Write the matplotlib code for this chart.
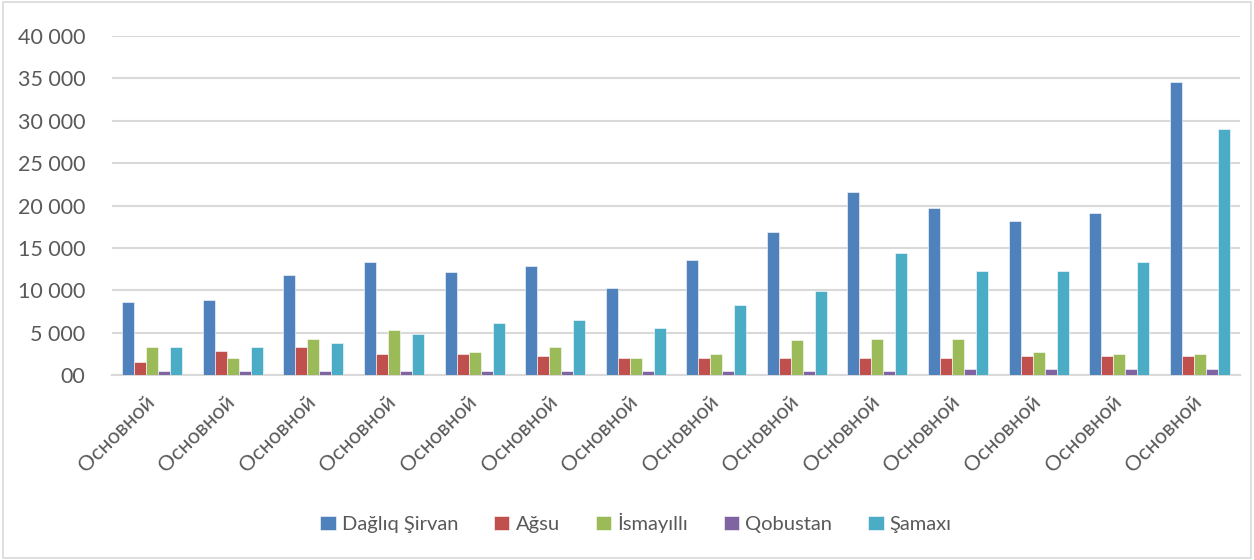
import matplotlib
matplotlib.use("Agg")
import matplotlib.pyplot as plt
import matplotlib.transforms as mtransforms
import numpy as np
from matplotlib.patches import Rectangle

plt.rcParams['font.family'] = ['Lato', 'DejaVu Sans']

categories = ["Основной"] * 14
series_names = ["Dağlıq Şirvan", "Ağsu", "İsmayıllı", "Qobustan", "Şamaxı"]
daglig_sirvan = [8600, 8800, 11850, 13350, 12100, 12900, 10300, 13600, 16900, 21650, 19650, 18150, 19150, 34550]
agsu = [1500, 2800, 3300, 2500, 2500, 2250, 2000, 2000, 2000, 2000, 2000, 2250, 2250, 2250]
ismayilli = [3300, 2000, 4300, 5300, 2750, 3300, 2000, 2500, 4100, 4250, 4250, 2700, 2500, 2500]
qobustan = [500, 500, 500, 500, 500, 500, 500, 500, 500, 500, 700, 700, 700, 700]
samaxi = [3300, 3300, 3800, 4800, 6100, 6500, 5550, 8300, 9900, 14350, 12300, 12300, 13300, 29000]
y_ticks = [0, 5000, 10000, 15000, 20000, 25000, 30000, 35000, 40000]
y_tick_labels = ["00", "5 000", "10 000", "15 000", "20 000", "25 000", "30 000", "35 000", "40 000"]

colors = ["#4F81BD", "#C0504D", "#9BBB59", "#8064A2", "#4BACC6"]
data = [daglig_sirvan, agsu, ismayilli, qobustan, samaxi]

fig = plt.figure(figsize=(12.54, 5.6), dpi=100)
ax = fig.add_axes([112/1254, 1-375/560, (1240-112)/1254, (375-36)/560])

x = np.arange(len(categories))
w = 0.149
for i, (vals, name, c) in enumerate(zip(data, series_names, colors)):
    ax.bar(x + (i-2)*w, vals, width=w, color=c, label=name, edgecolor="white", linewidth=0.4, zorder=3)

ax.set_xlim(-0.5, len(categories)-0.5)
ax.set_ylim(0, 40000)
ax.set_yticks(y_ticks)
ax.set_yticklabels(y_tick_labels, fontsize=15.5, color="#595959")
ax.set_xticks(x)
ax.set_xticklabels(categories, rotation=45, ha="right", rotation_mode="anchor", fontsize=15.5, color="#595959")
ax.tick_params(axis="both", length=0)
ax.tick_params(axis="y", pad=19)
ax.tick_params(axis="x", pad=12)
offset = mtransforms.ScaledTranslation(-8/100, 0, fig.dpi_scale_trans)
for lbl in ax.get_xticklabels():
    lbl.set_transform(lbl.get_transform() + offset)
ax.grid(axis="y", color="#D9D9D9", linewidth=1.5, zorder=0)
for s in ["top", "right", "left"]:
    ax.spines[s].set_visible(False)
ax.spines["bottom"].set_color("#D9D9D9")
ax.spines["bottom"].set_linewidth(1.5)

leg = fig.legend(loc="center", bbox_to_anchor=(636/1254, 1-523/560), ncol=5, frameon=False,
                 fontsize=14.5, handlelength=0.75, handleheight=0.75, handletextpad=0.3, columnspacing=1.8)
for t in leg.get_texts():
    t.set_color("#595959")

fig.patches.append(Rectangle((0.002, 0.003), 0.996, 0.994, transform=fig.transFigure,
                             fill=False, edgecolor="#D9D9D9", linewidth=1.2))

fig.savefig("out.png", dpi=100)
